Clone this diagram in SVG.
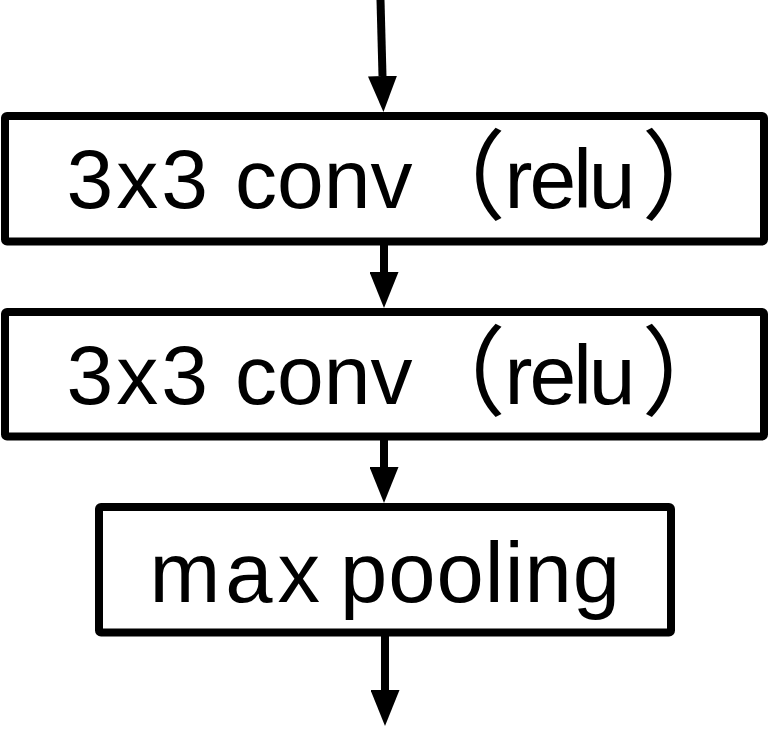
<svg xmlns="http://www.w3.org/2000/svg" width="769" height="734" viewBox="0 0 769 734">
  <style>
    .box { fill: #ffffff; stroke: #000000; stroke-width: 8; stroke-linejoin: round; }
    .lbl { font-family: "Liberation Sans", Arial, "Noto Sans CJK SC", sans-serif; font-size: 84px; fill: #000000; }
    .cjk { font-family: "Noto Sans CJK SC", "Liberation Sans", sans-serif; font-size: 98px; }
    .edge { fill: none; stroke: #000000; stroke-width: 8; marker-end: url(#arrow); }
  </style>
  <defs>
    <marker id="arrow" markerUnits="userSpaceOnUse" markerWidth="36" markerHeight="29" refX="0" refY="14.5" orient="auto">
      <path d="M0,0 L36,14.5 L0,29 Z" fill="#000000"/>
    </marker>
  </defs>
  <rect width="769" height="734" fill="#ffffff"/>
  <g id="connectors">
    <path class="edge" d="M380.5,0 L382.5,76"/>
    <path class="edge" d="M384,242 L384,272"/>
    <path class="edge" d="M384,436.5 L384,467"/>
    <path class="edge" d="M385,632.5 L385,690"/>
  </g>
  <g id="conv1">
    <rect class="box" x="5" y="116" width="759" height="125.5" rx="2"/>
    <text class="lbl" y="208"><tspan x="66.5" letter-spacing="3">3x3</tspan> <tspan x="235">conv</tspan> <tspan class="cjk" x="408" y="211">（</tspan><tspan x="504.5" y="208" letter-spacing="-3">relu</tspan><tspan class="cjk" x="641.5" y="211">）</tspan></text>
  </g>
  <g id="conv2">
    <rect class="box" x="5" y="312" width="759" height="124.5" rx="2"/>
    <text class="lbl" y="404"><tspan x="66.5" letter-spacing="3">3x3</tspan> <tspan x="235">conv</tspan> <tspan class="cjk" x="408" y="407">（</tspan><tspan x="504.5" y="404" letter-spacing="-3">relu</tspan><tspan class="cjk" x="641.5" y="407">）</tspan></text>
  </g>
  <g id="pool">
    <rect class="box" x="99" y="507" width="572" height="125.5" rx="2"/>
    <text class="lbl" y="602" style="font-size:85px"><tspan x="149.5" letter-spacing="5">max</tspan> <tspan x="340" letter-spacing="1">pooling</tspan></text>
  </g>
</svg>
